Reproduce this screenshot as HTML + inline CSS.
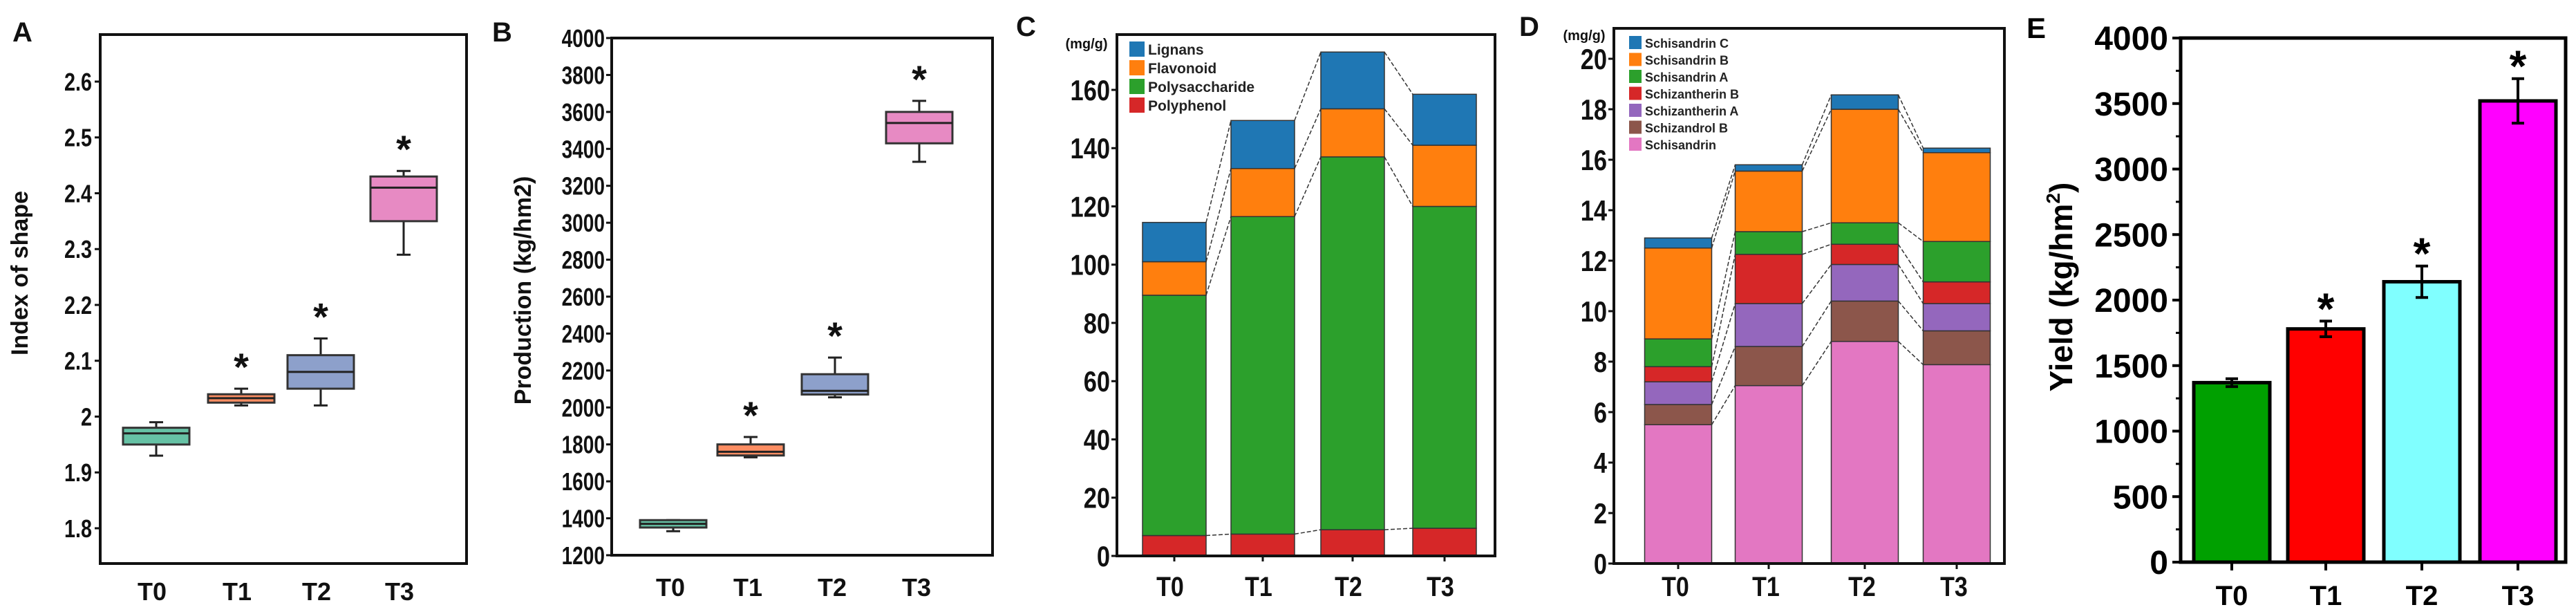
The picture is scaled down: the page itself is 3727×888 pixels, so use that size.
<!DOCTYPE html>
<html><head><meta charset="utf-8">
<style>
html,body{margin:0;padding:0;background:#fff;}
svg{display:block;font-family:"Liberation Sans",Arial,sans-serif;}
</style></head>
<body>
<svg id="fig" width="3727" height="888" viewBox="0 0 3727 888" xmlns="http://www.w3.org/2000/svg"></svg>
<script>
// ---------- data ----------
const categories = ["T0","T1","T2","T3"];
// Panel A: index of shape boxplots
const aWhiskLow = [1.93,2.02,2.02,2.29];
const aQ1 = [1.95,2.025,2.05,2.35];
const aMedian = [1.97,2.033,2.08,2.41];
const aQ3 = [1.98,2.04,2.11,2.43];
const aWhiskHigh = [1.99,2.05,2.14,2.44];
const aSignif = [false,true,true,true];
const aTicks = [1.8,1.9,2,2.1,2.2,2.3,2.4,2.5,2.6];
// Panel B: production boxplots
const bWhiskLow = [1330,1730,2055,3330];
const bQ1 = [1350,1740,2070,3430];
const bMedian = [1370,1760,2090,3540];
const bQ3 = [1390,1800,2180,3600];
const bWhiskHigh = [1390,1840,2270,3660];
const bSignif = [false,true,true,true];
const bTicks = [1200,1400,1600,1800,2000,2200,2400,2600,2800,3000,3200,3400,3600,3800,4000];
// Panel C: stacked components (mg/g)
const cSeriesNames = ["Polyphenol","Polysaccharide","Flavonoid","Lignans"];
const cPolyphenol = [7,7.5,9,9.5];
const cPolysaccharide = [82.5,109,128,110.5];
const cFlavonoid = [11.5,16.5,16.5,21];
const cLignans = [13.5,16.5,19.5,17.5];
const cTicks = [0,20,40,60,80,100,120,140,160];
// Panel D: stacked lignans (mg/g)
const dSeriesNames = ["Schisandrin","Schizandrol B","Schizantherin A","Schizantherin B","Schisandrin A","Schisandrin B","Schisandrin C"];
const dSchisandrin = [5.5,7.05,8.8,7.88];
const dSchizandrolB = [0.8,1.55,1.6,1.34];
const dSchizantherinA = [0.9,1.7,1.45,1.08];
const dSchizantherinB = [0.6,1.95,0.8,0.86];
const dSchisandrinA = [1.1,0.9,0.85,1.6];
const dSchisandrinB = [3.6,2.4,4.5,3.52];
const dSchisandrinC = [0.4,0.25,0.57,0.18];
const dTicks = [0,2,4,6,8,10,12,14,16,18,20];
// Panel E: yield bars
const eYield = [1370,1780,2140,3520];
const eErr = [30,60,120,170];
const eSignif = [false,true,true,true];
const eTicks = [0,500,1000,1500,2000,2500,3000,3500,4000];

// ---------- helpers ----------
const svg = document.getElementById('fig');
const NS = "http://www.w3.org/2000/svg";
function mk(tag, attrs, parent){
  const el = document.createElementNS(NS, tag);
  for (const k in attrs) el.setAttribute(k, attrs[k]);
  (parent||svg).appendChild(el);
  return el;
}
function txt(s, attrs, parent){ const t = mk('text', attrs, parent); t.textContent = s; return t; }
function lin(d0,d1,r0,r1){ return v => r0 + (v-d0)/(d1-d0)*(r1-r0); }

// ---------- Panel A ----------
(function(){
  const g = mk('g',{});
  
  
  const L=145,R=675,T=50,B=815;
  const y = lin(1.8,2.6,764,118);
  const xs = [226,349,464,584]; const bw=96;
  const f = mk('rect',{x:L,y:T,width:R-L,height:B-T,fill:'none',stroke:'#111','stroke-width':4},g);
   
  const colors=['#66c2a5','#fc8d62','#8da0cb','#e78ac3'];
  aTicks.forEach(t=>{
    mk('line',{x1:L-8,x2:L,y1:y(t),y2:y(t),stroke:'#111','stroke-width':3},g);
    const l = txt(String(t),{x:L-12,y:y(t)+13,'text-anchor':'end','font-size':36,'font-weight':'bold',fill:'#111',transform:`translate(${L-12},0) scale(0.8,1) translate(${-(L-12)},0)`},g);
     
  });
  categories.forEach((c,i)=>{
    const x=xs[i];
    const bg = mk('g',{},g);
     
    mk('line',{x1:x,x2:x,y1:y(aWhiskLow[i]),y2:y(aWhiskHigh[i]),stroke:'#222','stroke-width':3},bg);
    mk('line',{x1:x-10,x2:x+10,y1:y(aWhiskLow[i]),y2:y(aWhiskLow[i]),stroke:'#222','stroke-width':3},bg);
    mk('line',{x1:x-10,x2:x+10,y1:y(aWhiskHigh[i]),y2:y(aWhiskHigh[i]),stroke:'#222','stroke-width':3},bg);
    mk('rect',{x:x-bw/2,y:y(aQ3[i]),width:bw,height:y(aQ1[i])-y(aQ3[i]),fill:colors[i],stroke:'#333','stroke-width':3},bg);
    mk('line',{x1:x-bw/2,x2:x+bw/2,y1:y(aMedian[i]),y2:y(aMedian[i]),stroke:'#222','stroke-width':3},bg);
    if(aSignif[i]){ const s=txt('*',{x:x,y:y(aWhiskHigh[i])-12,'text-anchor':'middle','font-size':56,'font-weight':'bold',fill:'#111'},bg);
        }
    const cl = txt(c,{x:x-6,y:868,'text-anchor':'middle','font-size':36,'font-weight':'bold',fill:'#111'},g);
     
  });
  const yl = txt('Index of shape',{x:0,y:0,'text-anchor':'middle','font-size':34,'font-weight':'bold',fill:'#111',transform:'translate(40,395) rotate(-90)'},g);
   
  const pl = txt('A',{x:18,y:60,'font-size':40,'font-weight':'bold',fill:'#111'},g);
   
})();

// ---------- Panel B ----------
(function(){
  const g = mk('g',{});
  
  
  const L=885,R=1436,T=55,B=803;
  const y = lin(1200,4000,B,T);
  const xs=[974,1086,1208,1330]; const bw=96;
  const f = mk('rect',{x:L,y:T,width:R-L,height:B-T,fill:'none',stroke:'#111','stroke-width':4},g);
   
  const colors=['#66c2a5','#fc8d62','#8da0cb','#e78ac3'];
  bTicks.forEach(t=>{
    mk('line',{x1:L-8,x2:L,y1:y(t),y2:y(t),stroke:'#111','stroke-width':3},g);
    const l=txt(String(t),{x:L-10,y:y(t)+13,'text-anchor':'end','font-size':36,'font-weight':'bold',fill:'#111',transform:`translate(${L-10},0) scale(0.78,1) translate(${-(L-10)},0)`},g);
     
  });
  categories.forEach((c,i)=>{
    const x=xs[i];
    const bg=mk('g',{},g);
     
    mk('line',{x1:x,x2:x,y1:y(bWhiskLow[i]),y2:y(bWhiskHigh[i]),stroke:'#222','stroke-width':3},bg);
    mk('line',{x1:x-10,x2:x+10,y1:y(bWhiskLow[i]),y2:y(bWhiskLow[i]),stroke:'#222','stroke-width':3},bg);
    mk('line',{x1:x-10,x2:x+10,y1:y(bWhiskHigh[i]),y2:y(bWhiskHigh[i]),stroke:'#222','stroke-width':3},bg);
    mk('rect',{x:x-bw/2,y:y(bQ3[i]),width:bw,height:Math.max(2,y(bQ1[i])-y(bQ3[i])),fill:colors[i],stroke:'#333','stroke-width':3},bg);
    mk('line',{x1:x-bw/2,x2:x+bw/2,y1:y(bMedian[i]),y2:y(bMedian[i]),stroke:'#222','stroke-width':3},bg);
    if(bSignif[i]){ const s=txt('*',{x:x,y:y(bWhiskHigh[i])-12,'text-anchor':'middle','font-size':56,'font-weight':'bold',fill:'#111'},bg);
        }
    const cl=txt(c,{x:x-4,y:862,'text-anchor':'middle','font-size':36,'font-weight':'bold',fill:'#111'},g);
     
  });
  const yl=txt('Production  (kg/hm2)',{x:0,y:0,'text-anchor':'middle','font-size':34,'font-weight':'bold',fill:'#111',transform:'translate(768,420) rotate(-90)'},g);
   
  const pl=txt('B',{x:712,y:60,'font-size':40,'font-weight':'bold',fill:'#111'},g);
   
})();

// ---------- stacked helper ----------
function stacked(g, prefix, series, colors, names, y, xs, bw){
  const cum = categories.map(()=>0);
  const tops = [];
  series.forEach((arr,si)=>{
    const layer = [];
    categories.forEach((c,i)=>{
      const y0=y(cum[i]), y1=y(cum[i]+arr[i]);
      const r=mk('rect',{x:xs[i]-bw/2,y:y1,width:bw,height:y0-y1,fill:colors[si],stroke:'#333','stroke-width':1.5},g);
      
      
      cum[i]+=arr[i]; layer.push(cum[i]);
    });
    tops.push(layer);
  });
  tops.forEach(layer=>{
    for(let i=0;i<categories.length-1;i++){
      const l=mk('line',{x1:xs[i]+bw/2,y1:y(layer[i]),x2:xs[i+1]-bw/2,y2:y(layer[i+1]),stroke:'#333','stroke-width':1.5,'stroke-dasharray':'6,3'},g);
       
    }
  });
}

// ---------- Panel C ----------
(function(){
  const g=mk('g',{});
   
  const L=1616,R=2163,T=50,B=804;
  const y=lin(0,160,B,130);
  const xs=[1699,1827,1957,2090]; const bw=92;
  const colors=['#d62728','#2ca02c','#ff7f0e','#1f77b4'];
  stacked(g,'c',[cPolyphenol,cPolysaccharide,cFlavonoid,cLignans],colors,cSeriesNames,y,xs,bw);
  const f=mk('rect',{x:L,y:T,width:R-L,height:B-T,fill:'none',stroke:'#111','stroke-width':4},g);
   
  cTicks.forEach(t=>{
    mk('line',{x1:L-8,x2:L,y1:y(t),y2:y(t),stroke:'#111','stroke-width':3},g);
    const l=txt(String(t),{x:L-10,y:y(t)+15,'text-anchor':'end','font-size':42,'font-weight':'bold',fill:'#111',transform:`translate(${L-10},0) scale(0.82,1) translate(${-(L-10)},0)`},g);
     
  });
  categories.forEach((c,i)=>{
    mk('line',{x1:xs[i],x2:xs[i],y1:B,y2:B+8,stroke:'#111','stroke-width':3},g);
    const cl=txt(c,{x:xs[i]-6,y:862,'text-anchor':'middle','font-size':40,'font-weight':'bold',fill:'#111',transform:`translate(${xs[i]-6},0) scale(0.85,1) translate(${-(xs[i]-6)},0)`},g);
     
  });
  const u=txt('(mg/g)',{x:1572,y:70,'text-anchor':'middle','font-size':20,'font-weight':'bold',fill:'#111'},g);
   
  const leg=mk('g',{},g);
   
  const legOrder=[3,2,1,0];
  legOrder.forEach((si,k)=>{
    const yy=60+k*27;
    const e=mk('g',{},leg);
     
    mk('rect',{x:1634,y:yy,width:22,height:22,fill:colors[si]},e);
    txt(["Lignans","Flavonoid","Polysaccharide","Polyphenol"][k],{x:1661,y:yy+19,'font-size':21,'font-weight':'bold',fill:'#222'},e);
  });
  const pl=txt('C',{x:1470,y:52,'font-size':40,'font-weight':'bold',fill:'#111'},g);
   
})();

// ---------- Panel D ----------
(function(){
  const g=mk('g',{});
   
  const L=2335,R=2900,T=41,B=815;
  const y=lin(0,20,B,85);
  const xs=[2428,2559,2698,2831]; const bw=97;
  const colors=['#e377c2','#8c564b','#9467bd','#d62728','#2ca02c','#ff7f0e','#1f77b4'];
  stacked(g,'d',[dSchisandrin,dSchizandrolB,dSchizantherinA,dSchizantherinB,dSchisandrinA,dSchisandrinB,dSchisandrinC],colors,dSeriesNames,y,xs,bw);
  const f=mk('rect',{x:L,y:T,width:R-L,height:B-T,fill:'none',stroke:'#111','stroke-width':4},g);
   
  dTicks.forEach(t=>{
    mk('line',{x1:L-8,x2:L,y1:y(t),y2:y(t),stroke:'#111','stroke-width':3},g);
    const l=txt(String(t),{x:L-10,y:y(t)+15,'text-anchor':'end','font-size':42,'font-weight':'bold',fill:'#111',transform:`translate(${L-10},0) scale(0.82,1) translate(${-(L-10)},0)`},g);
     
  });
  categories.forEach((c,i)=>{
    mk('line',{x1:xs[i],x2:xs[i],y1:B,y2:B+8,stroke:'#111','stroke-width':3},g);
    const cl=txt(c,{x:xs[i]-4,y:862,'text-anchor':'middle','font-size':40,'font-weight':'bold',fill:'#111',transform:`translate(${xs[i]-4},0) scale(0.85,1) translate(${-(xs[i]-4)},0)`},g);
     
  });
  const u=txt('(mg/g)',{x:2292,y:58,'text-anchor':'middle','font-size':20,'font-weight':'bold',fill:'#111'},g);
   
  const leg=mk('g',{},g);
   
  for(let k=0;k<7;k++){
    const si=6-k; const yy=52+k*24.5;
    const e=mk('g',{},leg);
     
    mk('rect',{x:2357,y:yy,width:18,height:19,fill:colors[si]},e);
    txt(dSeriesNames[si],{x:2380,y:yy+17,'font-size':18,'font-weight':'bold',fill:'#222'},e);
  }
  const pl=txt('D',{x:2198,y:52,'font-size':40,'font-weight':'bold',fill:'#111'},g);
   
})();

// ---------- Panel E ----------
(function(){
  const g=mk('g',{});
   
  const L=3155,R=3712,T=55,B=813;
  const y=lin(0,4000,B,T);
  const xs=[3229,3365,3504,3643]; const bw=110;
  const colors=['#00a000','#ff0000','#80ffff','#ff00ff'];
  categories.forEach((c,i)=>{
    const r=mk('rect',{x:xs[i]-bw/2,y:y(eYield[i]),width:bw,height:B-y(eYield[i]),fill:colors[i],stroke:'#000','stroke-width':5},g);
     
    const eb=mk('g',{},g);
     
    const hi=y(eYield[i]+eErr[i]), lo=y(eYield[i]-eErr[i]);
    mk('line',{x1:xs[i],x2:xs[i],y1:hi,y2:lo,stroke:'#000','stroke-width':4},eb);
    mk('line',{x1:xs[i]-9,x2:xs[i]+9,y1:hi,y2:hi,stroke:'#000','stroke-width':4},eb);
    mk('line',{x1:xs[i]-9,x2:xs[i]+9,y1:lo,y2:lo,stroke:'#000','stroke-width':4},eb);
    if(eSignif[i]){ const s=txt('*',{x:xs[i],y:hi+4,'text-anchor':'middle','font-size':64,'font-weight':'bold',fill:'#000'},g);
        }
    mk('line',{x1:xs[i],x2:xs[i],y1:B,y2:B+12,stroke:'#000','stroke-width':4},g);
    const cl=txt(c,{x:xs[i],y:875,'text-anchor':'middle','font-size':40,'font-weight':'bold',fill:'#000'},g);
     
  });
  const f=mk('rect',{x:L,y:T,width:R-L,height:B-T,fill:'none',stroke:'#000','stroke-width':5},g);
   
  eTicks.forEach((t,k)=>{
    mk('line',{x1:L-12,x2:L,y1:y(t),y2:y(t),stroke:'#000','stroke-width':4},g);
    if(k<eTicks.length-1){ const m=(t+eTicks[k+1])/2; mk('line',{x1:L-7,x2:L,y1:y(m),y2:y(m),stroke:'#000','stroke-width':3},g); }
    const l=txt(String(t),{x:L-18,y:y(t)+17,'text-anchor':'end','font-size':48,'font-weight':'bold',fill:'#000'},g);
     
  });
  const yl=txt('',{x:0,y:0,'text-anchor':'middle','font-size':46,'font-weight':'bold',fill:'#000',transform:'translate(2998,415) rotate(-90)'},g);
   
  yl.appendChild(document.createTextNode('Yield (kg/hm'));
  const sup=document.createElementNS(NS,'tspan'); sup.setAttribute('dy','-18'); sup.setAttribute('font-size','28'); sup.textContent='2'; yl.appendChild(sup);
  const cl2=document.createElementNS(NS,'tspan'); cl2.setAttribute('dy','18'); cl2.textContent=')'; yl.appendChild(cl2);
  const pl=txt('E',{x:2932,y:55,'font-size':42,'font-weight':'bold',fill:'#000'},g);
   
})();
</script>
</body></html>
